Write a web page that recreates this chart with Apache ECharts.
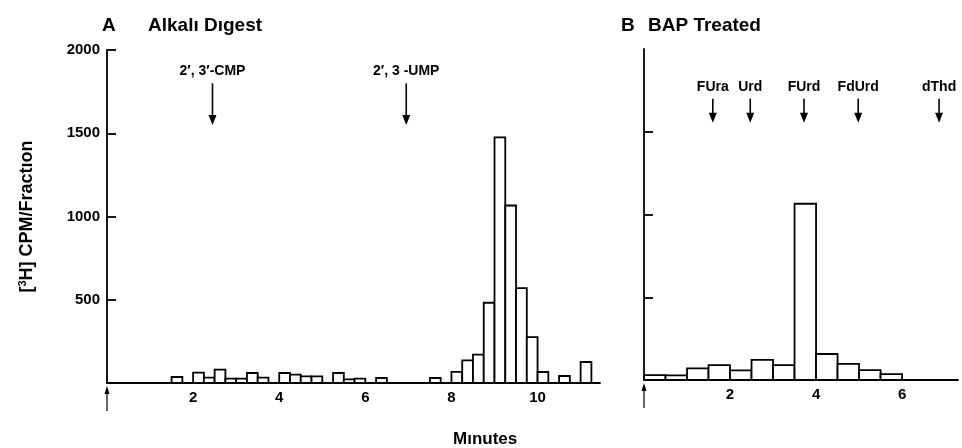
<!DOCTYPE html>
<html>
<head>
<meta charset="utf-8">
<script src="https://cdn.jsdelivr.net/npm/echarts@6/dist/echarts.min.js"></script>
<style>html,body{margin:0;padding:0;background:#fff}#c{width:962px;height:448px}</style>
</head>
<body>
<div id="c"></div>
<script>
// Panel A: Alkali digest, fractions of 0.25 min (bin start, CPM)
const aBinStart = [1.5, 2.0, 2.25, 2.5, 2.75, 3.0, 3.25, 3.5, 4.0, 4.25, 4.5, 4.75, 5.25, 5.5, 5.75, 6.25, 7.5, 8.0, 8.25, 8.5, 8.75, 9.0, 9.25, 9.5, 9.75, 10.0, 10.5, 11.0];
const aCPM      = [36, 62, 32, 80, 26, 26, 60, 32, 60, 50, 40, 40, 60, 22, 26, 30, 30, 67, 136, 170, 482, 1475, 1066, 570, 276, 66, 42, 126];
const aBinWidth = 0.25;
// Panel B: BAP treated, fractions of 0.5 min
const bBinStart = [0, 0.5, 1.0, 1.5, 2.0, 2.5, 3.0, 3.5, 4.0, 4.5, 5.0, 5.5];
const bCPM      = [30, 28, 70, 90, 58, 121, 90, 1065, 157, 97, 60, 36];
const bBinWidth = 0.5;
// Marker arrows (standards)
const aMarkerNames = ["2\u2032, 3\u2032-CMP", "2\u2032, 3 -UMP"];
const aMarkerTimes = [2.45, 6.95];
const bMarkerNames = ["FUra", "Urd", "FUrd", "FdUrd", "dThd"];
const bMarkerTimes = [1.6, 2.47, 3.72, 4.98, 6.86];
// Axis ticks
const yTicksA = [500, 1000, 1500, 2000];
const yTicksB = [500, 1000, 1500];
const xTicks = [2, 4, 6, 8, 10];

const FONT = '"Liberation Sans", Arial, Helvetica, sans-serif';
const chart = echarts.init(document.getElementById('c'), null, {renderer: 'canvas'});

function barRenderer(width) {
  return function (params, api) {
    const x0 = api.value(0), v = api.value(1);
    const p0 = api.coord([x0, v]);
    const p1 = api.coord([x0 + width, 0]);
    return {
      type: 'rect',
      shape: {x: p0[0], y: p0[1], width: p1[0] - p0[0], height: p1[1] - p0[1]},
      style: {fill: '#fff', stroke: '#000', lineWidth: 1.8}
    };
  };
}

function markerRenderer(names, topVal, botVal, fontSize) {
  return function (params, api) {
    const x = api.value(0);
    const pt = api.coord([x, topVal]);
    const pb = api.coord([x, botVal]);
    const name = names[params.dataIndex];
    return {
      type: 'group',
      children: [
        {type: 'line', shape: {x1: pt[0], y1: pt[1], x2: pb[0], y2: pb[1] - 8},
         style: {stroke: '#000', lineWidth: 1.6}},
        {type: 'polygon', shape: {points: [[pb[0] - 4, pb[1] - 10], [pb[0] + 4, pb[1] - 10], [pb[0], pb[1]]]},
         style: {fill: '#000'}},
        {type: 'text', x: pt[0], y: pt[1] - 5,
         style: {text: name, fill: '#000', font: 'bold ' + fontSize + 'px ' + FONT,
                 align: 'center', verticalAlign: 'bottom'}}
      ]
    };
  };
}

function injectionRenderer(params, api) {
  const p = api.coord([api.value(0), 0]);
  return {
    type: 'group',
    children: [
      {type: 'line', shape: {x1: p[0], y1: p[1] + 8, x2: p[0], y2: p[1] + 28},
       style: {stroke: '#000', lineWidth: 1.2}},
      {type: 'polygon', shape: {points: [[p[0] - 2.5, p[1] + 11], [p[0] + 2.5, p[1] + 11], [p[0], p[1] + 3]]},
       style: {fill: '#000'}}
    ]
  };
}

const axisLineStyle = {color: '#000', width: 1.8};
const labelStyle = {color: '#000', fontWeight: 'bold', fontSize: 15, fontFamily: FONT};
const xLabelFmt = v => xTicks.indexOf(v) >= 0 ? String(v) : '';
const titleStyle = {fontSize: 19, fontWeight: 'bold', fontFamily: FONT, color: '#000'};

const option = {
  backgroundColor: '#fff',
  animation: false,
  title: [
    {text: 'A', left: 97, top: 11, textStyle: titleStyle},
    {text: 'Alkalı Dıgest', left: 143, top: 11, textStyle: titleStyle},
    {text: 'B', left: 616, top: 11, textStyle: titleStyle},
    {text: 'BAP Treated', left: 643, top: 11, textStyle: titleStyle},
    {text: 'Mınutes', left: 448, top: 426, textStyle: {fontSize: 17, fontWeight: 'bold', fontFamily: FONT, color: '#000'}}
  ],
  grid: [
    {left: 107, right: 362, top: 50, bottom: 65},
    {left: 644, right: 4, top: 49, bottom: 68}
  ],
  xAxis: [
    {gridIndex: 0, type: 'value', min: 0, max: 11.45, interval: 2,
     axisLine: {lineStyle: axisLineStyle}, axisTick: {show: false}, splitLine: {show: false},
     axisLabel: Object.assign({margin: 7, formatter: xLabelFmt, showMaxLabel: false}, labelStyle)},
    {gridIndex: 1, type: 'value', min: 0, max: 7.3, interval: 2,
     axisLine: {lineStyle: axisLineStyle}, axisTick: {show: false}, splitLine: {show: false},
     axisLabel: Object.assign({margin: 7, formatter: xLabelFmt, showMaxLabel: false}, labelStyle)}
  ],
  yAxis: [
    {gridIndex: 0, type: 'value', min: 0, max: 2000, interval: 500,
     axisLine: {show: true, lineStyle: axisLineStyle},
     axisTick: {show: true, inside: true, length: 9, lineStyle: {color: '#000', width: 1.8}, customValues: yTicksA},
     splitLine: {show: false},
     axisLabel: Object.assign({margin: 7, customValues: yTicksA, formatter: v => String(v)}, labelStyle),
     name: '{t|[}{s|3}{t|H] CPM/Fractıon}', nameLocation: 'middle', nameRotate: 90, nameGap: 70,
     nameTextStyle: {rich: {
       t: {fontSize: 18, fontWeight: 'bold', fontFamily: FONT, color: '#000'},
       s: {fontSize: 11, fontWeight: 'bold', fontFamily: FONT, color: '#000', verticalAlign: 'top', padding: [0, 0, 9, 0]}
     }}},
    {gridIndex: 1, type: 'value', min: 0, max: 2000, interval: 500,
     axisLine: {show: true, lineStyle: axisLineStyle},
     axisTick: {show: true, inside: true, length: 9, lineStyle: {color: '#000', width: 1.8}, customValues: yTicksB},
     splitLine: {show: false},
     axisLabel: {show: false}}
  ],
  series: [
    {type: 'custom', name: 'A', xAxisIndex: 0, yAxisIndex: 0, renderItem: barRenderer(aBinWidth),
     data: aBinStart.map((t, i) => [t, aCPM[i]]), z: 3},
    {type: 'custom', name: 'B', xAxisIndex: 1, yAxisIndex: 1, renderItem: barRenderer(bBinWidth),
     data: bBinStart.map((t, i) => [t, bCPM[i]]), z: 3},
    {type: 'custom', name: 'A markers', xAxisIndex: 0, yAxisIndex: 0, renderItem: markerRenderer(aMarkerNames, 1800, 1550, 14),
     data: aMarkerTimes.map(t => [t]), clip: false},
    {type: 'custom', name: 'B markers', xAxisIndex: 1, yAxisIndex: 1, renderItem: markerRenderer(bMarkerNames, 1700, 1555, 14),
     data: bMarkerTimes.map(t => [t]), clip: false},
    {type: 'custom', name: 'A inj', xAxisIndex: 0, yAxisIndex: 0, renderItem: injectionRenderer, data: [[0]], clip: false},
    {type: 'custom', name: 'B inj', xAxisIndex: 1, yAxisIndex: 1, renderItem: injectionRenderer, data: [[0]], clip: false}
  ]
};
chart.setOption(option);
</script>
</body>
</html>
